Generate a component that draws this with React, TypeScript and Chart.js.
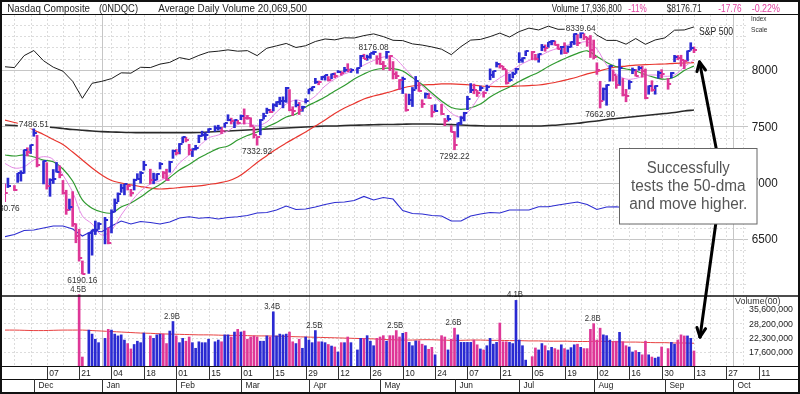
import React, { useEffect, useRef } from "react";
import { Chart, registerables } from "chart.js";

Chart.register(...registerables);

const W = 800;
const H = 394;
const FONT = "'Liberation Sans', Arial, Helvetica, sans-serif";

// ---------------- DATA ----------------
// One slot per weekday, slot 0 = Tue 20-Nov-2018 ... slot 213 = Fri 13-Sep-2019. null = market closed.
const prevClose = 7028.48; // Mon 19-Nov-2018

const closes = [
  6908.82, 6972.25, null, 6938.98, 7081.85, 7082.7, 7291.59, 7273.08, 7330.54, 7441.51,
  7158.43, null, 7188.26, 6969.25, 7020.52, 7031.83, 7098.31, 7070.33, 6910.67, 6753.73,
  6783.91, 6636.83, 6528.41, 6332.99, 6192.92, null, 6554.36, 6579.49, 6584.52, 6635.28,
  null, 6665.94, 6463.5, 6738.86, 6823.47, 6897.0, 6957.08, 6986.07, 6971.48, 6905.92,
  7023.83, 7034.69, 7084.46, 7157.23, null, 7020.36, 7025.77, 7073.46, 7164.86, 7085.68,
  7028.29, 7183.08, 7281.74, 7263.87, 7347.54, 7402.08, 7375.28, 7288.35, 7298.2, 7307.9,
  7414.62, 7420.38, 7426.95, 7472.41, null, 7486.77, 7489.07, 7459.71, 7527.54, 7554.46,
  7549.3, 7554.51, 7532.53, 7595.35, 7577.57, 7576.36, 7505.92, 7421.46, 7408.14, 7558.06,
  7591.03, 7643.41, 7630.91, 7688.53, 7714.48, 7723.95, 7728.97, 7838.96, 7642.67, 7637.54,
  7691.52, 7643.38, 7669.17, 7729.32, 7828.91, 7848.69, 7895.55, 7891.78, 7938.69, 7953.88,
  7909.28, 7964.24, 7947.36, 7984.16, 7976.01, 8000.23, 7996.08, 7998.06, null, 8015.27,
  8120.82, 8102.01, 8118.68, 8146.4, 8161.85, 8095.39, 8049.64, 8036.77, 8164.0, 8123.29,
  7963.76, 7943.32, 7910.59, 7916.94, 7647.02, 7734.49, 7822.15, 7898.05, 7816.28, 7702.38,
  7785.72, 7750.84, 7628.28, 7637.01, null, 7607.35, 7547.31, 7567.72, 7453.15, 7333.02,
  7527.12, 7575.48, 7615.55, 7742.1, 7823.17, 7822.57, 7792.72, 7837.13, 7796.66, 7845.02,
  7953.88, 7987.32, 8051.34, 8031.71, 8005.7, 7884.72, 7909.97, 7967.76, 8006.24, 8091.16,
  8109.09, 8170.23, null, 8161.79, 8098.38, 8141.73, 8202.53, 8196.04, 8244.14, 8258.19,
  8222.8, 8185.21, 8207.24, 8146.49, 8204.14, 8251.4, 8321.5, 8238.54, 8330.21, 8293.33,
  8273.61, 8175.42, 8111.12, 8004.07, 7726.04, 7833.27, 7862.83, 8039.16, 7959.14, 7863.41,
  8016.36, 7773.94, 7766.62, 7895.99, 8002.81, 7948.56, 8020.21, 7991.39, 7751.77, 7853.74,
  7826.95, 7856.88, 7973.39, 7962.88, null, 7874.16, 7976.88, 8116.83, 8103.07, 8087.44,
  8084.16, 8169.68, 8194.47, 8176.71,
];

const highs = [
  6990, 7041, null, 6975, 7083, 7106, 7292, 7310, 7335, 7486.51,
  7421, null, 7193, 7178, 7035, 7117, 7180, 7150, 7020, 6933,
  6855, 6921, 6636, 6587, 6306, null, 6555, 6580, 6660, 6646,
  null, 6693, 6600, 6760, 6856, 6910, 6985, 6987, 6978, 6941,
  7032, 7080, 7099, 7191, null, 7120, 7085, 7080, 7179, 7100,
  7120, 7190, 7290, 7295, 7348, 7406, 7404, 7341, 7300, 7332,
  7422, 7457, 7445, 7479, null, 7505, 7510, 7492, 7528, 7603,
  7573, 7557, 7554, 7601, 7655, 7598, 7576, 7494, 7410, 7561,
  7617, 7662, 7651, 7701, 7719, 7759, 7762, 7846, 7826, 7674,
  7733, 7712, 7679, 7745, 7830, 7850, 7926, 7902, 7943, 7954,
  7942, 7965, 7975, 7995, 7987, 8024, 8056, 8012, null, 8020,
  8130, 8140, 8132, 8147, 8176.08, 8127, 8150, 8076, 8168, 8128,
  8075, 7985, 7915, 7937, 7789, 7785, 7845, 7943, 7890, 7736,
  7797, 7792, 7688, 7693, null, 7696, 7570, 7598, 7506, 7454,
  7530, 7587, 7625, 7767, 7880, 7875, 7819, 7858, 7807, 7866,
  8010, 7990, 8070, 8058, 8034, 8003, 7964, 7982, 8015, 8154,
  8109, 8170, null, 8165, 8139, 8143, 8227, 8223, 8245, 8262,
  8258, 8229, 8210, 8242, 8213, 8251, 8322, 8315, 8339.64, 8323,
  8292, 8306, 8266, 8064, 7900, 7841, 7869, 8040, 8001, 7949,
  8097, 7925, 7828, 7907, 8018, 8004, 8032, 8034, 8009, 7860,
  7905, 7861, 7989, 8003, null, 7924, 7978, 8130, 8129, 8131,
  8085, 8170, 8242, 8205,
];

const lows = [
  6830.76, 6957, null, 6930, 7003, 7014, 7083, 7237, 7259, 7412,
  7140, null, 6989, 6943, 6879, 6993, 7094, 7043, 6898, 6719,
  6756, 6612, 6467, 6304, 6190.16, null, 6195, 6357, 6540, 6586,
  null, 6457, 6457, 6554, 6741, 6831, 6914, 6892, 6935, 6880,
  6935, 7030, 6996, 7111, null, 6989, 6990, 7024, 7121, 7040,
  7021, 7093, 7216, 7246, 7255, 7354, 7362, 7247, 7232, 7290,
  7355, 7412, 7380, 7443, null, 7455, 7466, 7436, 7491, 7549,
  7521, 7488, 7522, 7559, 7520, 7562, 7495, 7397, 7332.92, 7424,
  7564, 7613, 7621, 7636, 7674, 7693, 7664, 7713, 7638, 7596,
  7672, 7605, 7633, 7707, 7788, 7814, 7880, 7869, 7913, 7910,
  7902, 7922, 7931, 7976, 7954, 7981, 7985, 7978, null, 7971,
  8030, 8100, 8086, 8103, 8137, 8052, 8049, 8002, 8103, 7995,
  7920, 7923, 7826, 7791, 7634, 7692, 7676, 7832, 7810, 7667,
  7750, 7747, 7583, 7632, null, 7605, 7506, 7547, 7450, 7292.22,
  7404, 7516, 7548, 7648, 7799, 7789, 7765, 7815, 7759, 7815,
  7913, 7933, 8026, 8017, 8001, 7874, 7898, 7929, 7970, 8066,
  8068, 8127, null, 8091, 8088, 8069, 8171, 8166, 8201, 8223,
  8220, 8184, 8140, 8145, 8157, 8202, 8226, 8216, 8284, 8270,
  8210, 8111, 8098, 7961, 7662.9, 7731, 7687, 7901, 7902, 7837,
  7863, 7769, 7718, 7831, 7967, 7946, 7998, 7936, 7744, 7785,
  7811, 7785, 7927, 7930, null, 7829, 7930, 8073, 8091, 8034,
  8011, 8080, 8175, 8154,
];

// daily volume, billions of shares (shown on the axis in hundreds)
const volumes = [
  null, null, null, null, null, null, null, null, null, null,
  null, null, null, null, null, null, null, null, null, null,
  null, null, null, 4.5, 1.62, null, 2.52, 2.36, 2.17, 2.05,
  null, 2.2, 2.55, 2.52, 2.36, 2.29, 2.33, 2.14, 2.02, 1.85,
  1.99, 2.1, 2.05, 2.4, null, 2.29, 2.2, 2.33, 2.36, 2.36,
  2.02, 2.48, 2.9, 2.29, 2.05, 2.2, 2.1, 2.25, 2.05, 1.87,
  2.08, 2.05, 2.05, 2.17, null, 2.08, 2.14, 2.08, 2.33, 2.33,
  2.25, 2.44, 2.55, 2.44, 2.48, 2.17, 2.25, 2.29, 2.25, 2.1,
  2.1, 2.29, 2.25, 3.4, 2.29, 2.36, 2.33, 2.36, 2.44, 2.08,
  2.02, 2.17, 1.87, 2.25, 2.14, 2.05, 2.5, 2.08, 2.08, 2.05,
  1.99, 1.94, 1.91, 1.76, 2.05, 2.05, 2.25, 2.05, null, 1.82,
  2.2, 2.2, 2.3, 2.1, 1.95, 2.2, 2.25, 2.3, 2.1, 2.3,
  2.3, 2.5, 2.25, 2.39, 2.43, 2.06, 1.95, 2.11, 2.11, 2.0,
  1.95, 1.84, 1.9, 1.68, null, 2.3, 2.25, 1.82, 2.17, 2.6,
  2.33, 2.06, 2.06, 2.06, 2.06, 2.14, 1.98, 1.85, 1.82, 1.95,
  2.2, 2.0, 2.06, 2.83, 2.08, 2.08, 2.06, 2.02, 4.1, 2.14,
  1.95, 1.54, null, 1.63, 1.88, 1.82, 2.02, 1.95, 1.8, 1.9,
  1.86, 1.82, 1.98, 1.86, 1.82, 1.89, 1.98, 2.0, 1.9, 1.86,
  1.86, 2.55, 2.8, 2.14, 2.6, 2.33, 2.3, 2.14, 2.08, 2.1,
  2.43, 2.08, 1.95, 1.91, 1.76, 1.8, 1.75, 1.68, 2.1, 1.68,
  1.62, 1.59, 1.62, 1.91, null, 1.86, 2.06, 2.0, 2.14, 2.33,
  2.29, 2.29, 2.2, 1.79,
];

// line series sampled every third slot
const lineSlots = [
  0, 3, 6, 9, 12, 15, 18, 21, 24, 27, 30, 33, 36, 39, 42, 45, 48, 51, 54, 57, 60, 63, 66, 69,
  72, 75, 78, 81, 84, 87, 90, 93, 96, 99, 102, 105, 108, 111, 114, 117, 120, 123, 126, 129,
  132, 135, 138, 141, 144, 147, 150, 153, 156, 159, 162, 165, 168, 171, 174, 177, 180, 183,
  186, 189, 192, 195, 198, 201, 204, 207, 210, 213,
];
const ma10 = [
  7172, 7130, 7142, 7201, 7231, 7206, 7068, 6917, 6705, 6634, 6536, 6580, 6713, 6829, 6926, 6988, 7018, 7068,
  7175, 7246, 7321, 7397, 7423, 7459, 7516, 7527, 7507, 7539, 7627, 7698, 7734, 7720, 7769, 7858, 7920, 7965,
  7996, 8044, 8084, 8115, 8115, 8036, 7942, 7858, 7778, 7707, 7618, 7583, 7654, 7778, 7867, 7929, 7982, 8040,
  8084, 8118, 8164, 8193, 8222, 8237, 8249, 8186, 8044, 7965, 7920, 7925, 7951, 7956, 7944, 7956, 8027, 8089,
];
const ma21 = [
  7246, 7237, 7246, 7228, 7201, 7186, 7122, 7015, 6847, 6773, 6740, 6731, 6784, 6820, 6873, 6935, 6984, 7046,
  7113, 7162, 7219, 7263, 7305, 7326, 7379, 7419, 7450, 7494, 7534, 7583, 7610, 7672, 7716, 7760, 7814, 7862,
  7920, 7965, 8000, 8015, 8013, 7991, 7933, 7871, 7796, 7725, 7667, 7651, 7665, 7698, 7760, 7809, 7849, 7898,
  7941, 7980, 8031, 8074, 8113, 8148, 8170, 8120, 8067, 8029, 8009, 7991, 7958, 7933, 7918, 7938, 7996, 8035,
];
const ma50 = [
  7556, 7534, 7512, 7468, 7428, 7383, 7339, 7272, 7201, 7130, 7068, 7020, 6997, 6980, 6966, 6953, 6944, 6949,
  6957, 6966, 6971, 6984, 6997, 7015, 7050, 7110, 7180, 7240, 7300, 7352, 7401, 7450, 7503, 7556, 7614, 7663,
  7703, 7743, 7769, 7791, 7814, 7840, 7858, 7867, 7871, 7876, 7876, 7873, 7867, 7858, 7854, 7852, 7854, 7858,
  7862, 7867, 7880, 7896, 7916, 7938, 7965, 7985, 8009, 8027, 8035, 8044, 8047, 8051, 8053, 8059, 8062, 8065,
];
const ma200 = [
  7512, 7508, 7503, 7500, 7497, 7490, 7481, 7472, 7465, 7459, 7453, 7450, 7447, 7445, 7444, 7444, 7444, 7444,
  7444, 7444, 7445, 7450, 7454, 7459, 7463, 7468, 7472, 7477, 7481, 7485, 7490, 7494, 7499, 7503, 7503, 7508,
  7510, 7512, 7514, 7516, 7517, 7519, 7521, 7521, 7521, 7518, 7515, 7512, 7508, 7505, 7503, 7503, 7503, 7503,
  7503, 7503, 7508, 7512, 7521, 7527, 7539, 7547, 7561, 7570, 7579, 7587, 7596, 7605, 7614, 7623, 7636, 7645,
];
const spx = [
  2641, 2633, 2743, 2790, 2696, 2637, 2600, 2507, 2351, 2489, 2507, 2532, 2585, 2582, 2636, 2633, 2665, 2681,
  2725, 2707, 2745, 2776, 2784, 2796, 2784, 2789, 2743, 2811, 2833, 2855, 2818, 2834, 2873, 2896, 2888, 2907,
  2905, 2927, 2943, 2918, 2884, 2881, 2851, 2840, 2823, 2802, 2752, 2826, 2886, 2892, 2918, 2950, 2914, 2964,
  2996, 2979, 3014, 2985, 2986, 3004, 3013, 2932, 2883, 2883, 2848, 2900, 2847, 2887, 2906, 2977, 2979, 3007,
];
// relative-strength line, expressed in price-scale units
const rsLine = [
  6521, 6540, 6576, 6580, 6598, 6616, 6616, 6589, 6527, 6571, 6565, 6616, 6660, 6634, 6656, 6647, 6634, 6651,
  6687, 6698, 6684, 6691, 6678, 6691, 6698, 6709, 6731, 6736, 6758, 6793, 6762, 6767, 6784, 6807, 6824, 6829,
  6842, 6878, 6847, 6869, 6855, 6753, 6727, 6722, 6709, 6705, 6660, 6660, 6705, 6722, 6736, 6731, 6758, 6758,
  6758, 6787, 6787, 6802, 6815, 6829, 6807, 6762, 6784, 6787, 6776, 6784, 6793, 6793, 6802, 6802, 6811, 6811,
];
const volAvg50 = [
  2.52, 2.52, 2.51, 2.5, 2.5, 2.51, 2.52, 2.52, 2.52, 2.5, 2.48, 2.46, 2.44, 2.42, 2.4, 2.39, 2.37, 2.36,
  2.35, 2.34, 2.33, 2.33, 2.32, 2.31, 2.31, 2.3, 2.29, 2.29, 2.28, 2.27, 2.26, 2.25, 2.24, 2.23, 2.22, 2.21,
  2.2, 2.19, 2.18, 2.16, 2.15, 2.14, 2.14, 2.15, 2.15, 2.14, 2.13, 2.13, 2.14, 2.14, 2.13, 2.13, 2.12, 2.12,
  2.11, 2.11, 2.1, 2.1, 2.1, 2.09, 2.09, 2.1, 2.09, 2.08, 2.07, 2.07, 2.06, 2.05, 2.05, 2.04, 2.04, 2.03,
];

// axis labels
const dayTickSlots = [13, 23, 33, 43, 53, 63, 73, 83, 93, 103, 113, 123, 133, 143, 153, 163, 173, 183, 193, 203, 213, 223, 233];
const dayTickLabels = ["07", "21", "04", "18", "01", "15", "01", "15", "29", "12", "26", "10", "24", "07", "21", "05", "19", "02", "16", "30", "13", "27", "11"];
const monthTickSlots = [9, 30, 53, 73, 94, 116, 139, 159, 182, 204, 225];
const monthTickLabels = ["Dec", "Jan", "Feb", "Mar", "Apr", "May", "Jun", "Jul", "Aug", "Sep", "Oct"];
const quarterSlots = [30, 94, 159, 225];
const priceTicks = [6500, 7000, 7500, 8000];
const volumeTicks = [1.76, 2.23, 2.82, 3.56];
const highNoteSlots = [9, 114, 178];
const lowNoteSlots = [0, 24, 78, 139, 184];
const volumeNoteSlots = [23, 52, 83, 96, 121, 139, 158, 182];

// ---------------- LAYOUT ----------------
const AREA_TOP = 15;
const AREA_BOTTOM = 366;
const PANEL_SPLIT = 296;
const GRID_RIGHT = 748;
const X_MIN = 0.0916, X_MAX = 244.22;
const P_MIN = 5373.6, P_MAX = 8488.0;
const V_MIN = 1.3985, V_MAX = 441.1;
const S_MIN = -109.5, S_MAX = 3116.5;

const UP = "#2a2ad2";
const DOWN = "#de3797";
const MAGENTA_TEXT = "#e0409f";

function seg(ctx: any, x1: number, y1: number, x2: number, y2: number) {
  ctx.beginPath();
  ctx.moveTo(x1, y1);
  ctx.lineTo(x2, y2);
  ctx.stroke();
}

function drawText(ctx: any, text: string, x: number, y: number, o: any) {
  ctx.save();
  ctx.font = `${o.size}px ${FONT}`;
  ctx.textBaseline = "alphabetic";
  ctx.textAlign = "left";
  const w = ctx.measureText(text).width;
  const sx = o.width ? o.width / w : o.sx ?? 0.88;
  const tw = w * sx;
  let left = x;
  if (o.align === "center") left = x - tw / 2;
  else if (o.align === "right") left = x - tw;
  if (o.bg) {
    ctx.fillStyle = o.bg;
    ctx.fillRect(left - 1, y - o.size * 0.78, tw + 2, o.size * 0.9);
  }
  ctx.fillStyle = o.color || "#222";
  ctx.translate(left, y);
  ctx.scale(sx, 1);
  ctx.fillText(text, 0, 0);
  ctx.restore();
}

function arrow(ctx: any, x1: number, y1: number, x2: number, y2: number) {
  ctx.save();
  ctx.strokeStyle = "#000";
  ctx.lineWidth = 3;
  ctx.lineCap = "round";
  seg(ctx, x1, y1, x2, y2);
  const a = Math.atan2(y2 - y1, x2 - x1);
  const L = 10;
  seg(ctx, x2, y2, x2 - L * Math.cos(a - 0.45), y2 - L * Math.sin(a - 0.45));
  seg(ctx, x2, y2, x2 - L * Math.cos(a + 0.45), y2 - L * Math.sin(a + 0.45));
  ctx.restore();
}

function makeTick(color: string) {
  const c = document.createElement("canvas");
  c.width = 8;
  c.height = 2;
  const g = c.getContext("2d")!;
  g.fillStyle = color;
  g.fillRect(4, 0, 3, 2);
  return c;
}

export default function App() {
  const ref = useRef<HTMLCanvasElement>(null);

  useEffect(() => {
    const canvas = ref.current;
    if (!canvas) return;

    const upTick = makeTick(UP);
    const downTick = makeTick(DOWN);

    const isUp: boolean[] = [];
    let last = prevClose;
    closes.forEach((c, i) => {
      if (c == null) { isUp[i] = true; return; }
      isUp[i] = c >= last;
      last = c;
    });

    const slots = closes.map((c, i) => (c == null ? -1 : i)).filter((i) => i >= 0);
    const priceBars = slots.map((s) => ({ x: s, y: [lows[s], highs[s]] }));
    const closePts = slots.map((s) => ({ x: s, y: closes[s] }));
    const volBars = slots.filter((s) => volumes[s] != null).map((s) => ({ x: s, y: [V_MIN, volumes[s]] }));
    const asLine = (vals: number[]) => lineSlots.map((s, i) => ({ x: s, y: vals[i] }));
    const colorOf = (c: any) => (c.raw && isUp[c.raw.x] ? UP : DOWN);

    const gridPlugin = {
      id: "ibdGrid",
      beforeDatasetsDraw(chart: any) {
        const { ctx } = chart;
        const xs = chart.scales.x, ys = chart.scales.y, yv = chart.scales.yv;
        ctx.save();
        ctx.lineWidth = 1;
        for (let p = 5400; p <= 8500; p += 100) {
          const py = Math.round(ys.getPixelForValue(p)) + 0.5;
          if (py <= AREA_TOP + 1 || py >= PANEL_SPLIT - 1) continue;
          const major = p % 500 === 0;
          ctx.strokeStyle = major ? "#c6c6c6" : "#dcdcdc";
          ctx.setLineDash(major ? [] : [2, 2]);
          seg(ctx, 0, py, GRID_RIGHT, py);
        }
        ctx.strokeStyle = "#dcdcdc";
        ctx.setLineDash([2, 2]);
        for (const v of volumeTicks) {
          const py = Math.round(yv.getPixelForValue(v)) + 0.5;
          seg(ctx, 0, py, GRID_RIGHT - 4, py);
        }
        for (let s = 3; s < X_MAX; s += 5) {
          const px = Math.round(xs.getPixelForValue(s)) + 0.5;
          if (px > GRID_RIGHT) break;
          seg(ctx, px, AREA_TOP, px, AREA_BOTTOM);
        }
        ctx.setLineDash([]);
        ctx.strokeStyle = "#c6c6c6";
        for (const s of quarterSlots) {
          const px = Math.round(xs.getPixelForValue(s)) + 0.5;
          seg(ctx, px, AREA_TOP, px, AREA_BOTTOM);
        }
        ctx.restore();
      },
    };

    const labelPlugin = {
      id: "ibdLabels",
      afterDraw(chart: any) {
        const { ctx } = chart;
        const xs = chart.scales.x, ys = chart.scales.y, yv = chart.scales.yv;
        ctx.save();

        // price axis labels
        for (const p of priceTicks) {
          const py = ys.getPixelForValue(p);
          drawText(ctx, String(p), 751.7, py + 4.3, { size: 12, width: 26, color: "#222" });
        }
        drawText(ctx, "Index", 751, 21, { size: 7.5, width: 15.5, color: "#333" });
        drawText(ctx, "Scale", 751, 31.5, { size: 7.5, width: 16.5, color: "#333" });
        drawText(ctx, "S&P 500", 699, 35, { size: 11, width: 34, color: "#222" });

        // notes on highs / lows
        for (const s of highNoteSlots) {
          const v = highs[s] as number;
          drawText(ctx, v.toFixed(2), xs.getPixelForValue(s), ys.getPixelForValue(v) - 0.5, { size: 9.5, width: 30, align: "center", color: "#333", bg: "#fff" });
        }
        for (const s of lowNoteSlots) {
          const v = lows[s] as number;
          drawText(ctx, v.toFixed(2), xs.getPixelForValue(s), ys.getPixelForValue(v) + 9, { size: 9.5, width: 30, align: "center", color: "#333" });
        }
        // notes on volume spikes
        for (const s of volumeNoteSlots) {
          const v = volumes[s] as number;
          drawText(ctx, v.toFixed(1) + "B", xs.getPixelForValue(s) - 1, yv.getPixelForValue(v) - 3, { size: 9, width: 16, align: "center", color: "#333" });
        }

        // volume axis labels
        drawText(ctx, "Volume(00)", 735, 303.5, { size: 9, width: 45.5, color: "#333" });
        for (const v of volumeTicks) {
          const py = yv.getPixelForValue(v);
          drawText(ctx, (Math.round(v * 100) * 100000).toLocaleString("en-US"), 793, py + 3.3, { size: 9, width: 44, align: "right", color: "#222" });
        }

        // frame lines
        ctx.strokeStyle = "#111";
        ctx.lineWidth = 1;
        seg(ctx, 0, 14.5, W, 14.5);
        ctx.lineWidth = 1.5;
        seg(ctx, 0, PANEL_SPLIT, W, PANEL_SPLIT);
        ctx.lineWidth = 1.2;
        seg(ctx, 0, 366.5, W, 366.5);
        ctx.lineWidth = 1;
        seg(ctx, 0, 379.5, W, 379.5);

        // date axis
        ctx.strokeStyle = "#333";
        dayTickSlots.forEach((s, i) => {
          const px = Math.round(xs.getPixelForValue(s)) + 0.5;
          seg(ctx, px, 367, px, 379.5);
          drawText(ctx, dayTickLabels[i], px + 1.8, 375.8, { size: 9.5, sx: 0.9, color: "#222" });
        });
        monthTickSlots.forEach((s, i) => {
          const px = Math.round(xs.getPixelForValue(s)) + 0.5;
          seg(ctx, px, 379.5, px, 392);
          drawText(ctx, monthTickLabels[i], px + 4, 388, { size: 9.5, sx: 0.88, color: "#222" });
        });

        // header
        drawText(ctx, "Nasdaq Composite", 7.3, 11.5, { size: 10, width: 82.7, color: "#222" });
        drawText(ctx, "(0NDQC)", 99, 11.5, { size: 10, width: 39, color: "#222" });
        drawText(ctx, "Average Daily Volume 20,069,500", 158.3, 11.5, { size: 10, width: 148.7, color: "#222" });
        drawText(ctx, "Volume 17,936,800", 551.7, 11.5, { size: 10, width: 70, color: "#222" });
        drawText(ctx, "-11%", 628.3, 11.5, { size: 10, width: 18.4, color: MAGENTA_TEXT });
        drawText(ctx, "$8176.71", 666.7, 11.5, { size: 10, width: 35, color: "#222" });
        drawText(ctx, "-17.76", 718.3, 11.5, { size: 10, width: 23.4, color: MAGENTA_TEXT });
        drawText(ctx, "-0.22%", 751.7, 11.5, { size: 10, width: 28.3, color: MAGENTA_TEXT });

        // annotation
        arrow(ctx, 716.5, 150, 699.5, 62);
        arrow(ctx, 716, 222, 700, 337);
        ctx.fillStyle = "#fff";
        ctx.fillRect(619.5, 148.5, 137.5, 75.5);
        ctx.strokeStyle = "#666";
        ctx.lineWidth = 1;
        ctx.strokeRect(619.5, 148.5, 137.5, 75.5);
        drawText(ctx, "Successfully", 688.3, 173, { size: 16, width: 83, align: "center", color: "#555" });
        drawText(ctx, "tests the 50-dma", 688.3, 191, { size: 16, width: 114.5, align: "center", color: "#555" });
        drawText(ctx, "and move higher.", 688.3, 208.5, { size: 16, width: 118, align: "center", color: "#555" });

        // outer border
        ctx.strokeStyle = "#111";
        ctx.lineWidth = 2;
        ctx.strokeRect(1, 1, W - 2, H - 2);
        ctx.restore();
      },
    };

    const chart = new Chart(canvas, {
      type: "bar",
      data: {
        datasets: [
          {
            type: "line",
            label: "close",
            data: closePts,
            showLine: false,
            pointRadius: 2,
            pointStyle: (c: any) => (c.raw && isUp[c.raw.x] ? upTick : downTick),
            yAxisID: "y",
            order: 0,
          } as any,
          {
            type: "bar",
            label: "price range",
            data: priceBars,
            backgroundColor: colorOf,
            barThickness: 2,
            grouped: false,
            yAxisID: "y",
            order: 1,
          } as any,
          {
            type: "bar",
            label: "volume",
            data: volBars,
            backgroundColor: colorOf,
            barThickness: 2,
            grouped: false,
            yAxisID: "yv",
            order: 2,
          } as any,
          { type: "line", label: "10-dma", data: asLine(ma10), borderColor: "#e58be5", borderWidth: 1, pointRadius: 0, tension: 0.35, yAxisID: "y", order: 3 } as any,
          { type: "line", label: "21-dma", data: asLine(ma21), borderColor: "#2f9a2f", borderWidth: 1.2, pointRadius: 0, tension: 0.35, yAxisID: "y", order: 4 } as any,
          { type: "line", label: "50-dma", data: asLine(ma50), borderColor: "#e8352e", borderWidth: 1.2, pointRadius: 0, tension: 0.35, yAxisID: "y", order: 5 } as any,
          { type: "line", label: "200-dma", data: asLine(ma200), borderColor: "#2a2a2a", borderWidth: 1.6, pointRadius: 0, tension: 0.35, yAxisID: "y", order: 6 } as any,
          { type: "line", label: "S&P 500", data: asLine(spx), borderColor: "#1c1c1c", borderWidth: 1, pointRadius: 0, tension: 0, yAxisID: "ys", order: 7 } as any,
          { type: "line", label: "RS line", data: asLine(rsLine), borderColor: "#2c2cd0", borderWidth: 1.1, pointRadius: 0, tension: 0, yAxisID: "y", order: 8 } as any,
          { type: "line", label: "50-day avg volume", data: asLine(volAvg50), borderColor: "#e84040", borderWidth: 1, pointRadius: 0, tension: 0.3, yAxisID: "yv", order: 9 } as any,
        ],
      },
      options: {
        responsive: false,
        animation: false,
        events: [],
        layout: { padding: { left: 0, right: 0, top: AREA_TOP, bottom: H - AREA_BOTTOM } },
        plugins: { legend: { display: false }, tooltip: { enabled: false } },
        scales: {
          x: { type: "linear", min: X_MIN, max: X_MAX, offset: false, display: false },
          y: { type: "linear", min: P_MIN, max: P_MAX, display: false },
          yv: { type: "logarithmic", min: V_MIN, max: V_MAX, display: false },
          ys: { type: "linear", min: S_MIN, max: S_MAX, display: false },
        },
      } as any,
      plugins: [gridPlugin, labelPlugin],
    });

    return () => chart.destroy();
  }, []);

  return (
    <div style={{ position: "fixed", left: 0, top: 0, width: W, height: H, background: "#fff" }}>
      <canvas ref={ref} width={W} height={H} style={{ display: "block" }} />
    </div>
  );
}
